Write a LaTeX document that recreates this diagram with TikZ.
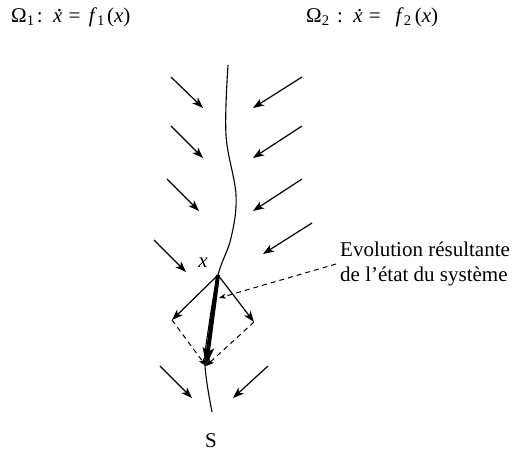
\documentclass[tikz,border=0pt]{standalone}
\usepackage{fontspec}
\setmainfont{Liberation Serif}
\usetikzlibrary{arrows.meta}
\newcommand{\xdotit}{\textit{\makebox[0pt][l]{\hspace{0.2em}\smash{\raisebox{0.52em}{.}}}x}}
\begin{document}
\begin{tikzpicture}[x=1pt,y=-1pt,
  fld/.style={line width=1.2pt,-{Stealth[length=11pt,width=8pt,inset=3pt]}},
  vec/.style={line width=1.2pt,-{Stealth[length=11pt,width=8pt,inset=3pt]}},
  dsh/.style={line width=1pt,dashed,dash pattern=on 5pt off 4pt},
  txt/.style={font=\fontsize{21}{25}\selectfont,inner sep=0pt}]
\useasboundingbox (0,0) rectangle (525,456);
% headings
\node[txt,anchor=west] (o1) at (11,17) {Ω\textsubscript{1}\hspace{0.1em}:\hspace{0.5em}\xdotit\hspace{0.3em}=\hspace{0.4em}\textit{f}\textsubscript{1}\hspace{0.1em}(\textit{x})};
\node[txt,anchor=west] (o2) at (306,17) {Ω\textsubscript{2}\hspace{0.35em}:\hspace{0.5em}\xdotit\hspace{0.3em}=\hspace{0.7em}\textit{f}\textsubscript{2}\hspace{0.15em}(\textit{x})};
% sliding curve
\draw[line width=1.1pt] plot[smooth,tension=0.6] coordinates {(228,65) (226,135) (236,195) (231,238) (218,275) (209,325) (205,365) (212,412)};
% field arrows
\foreach \i/\a/\b/\c/\d in {l1/171/77/203/108, l2/171/126/203/158, l3/167/179/199/211, l4/154/240/186/272, l5/160/366/192/398,
  r1/302/77/253/108, r2/302/126/253/158, r3/302/179/253/211, r4/312/223/263/254, r5/268/366/233/398}{
  \coordinate (\i s) at (\a,\b);
  \coordinate (\i e) at (\c,\d);
  \draw[fld] (\i s) -- (\i e);
}
% state point and vectors
\coordinate (X) at (218,275);
\coordinate (A) at (172,320);
\coordinate (B) at (254,322);
\coordinate (R) at (206,366);
\node[txt,font=\fontsize{21}{25}\selectfont\itshape] (xl) at (203,263) {x};
\draw[vec] (X) -- (A);
\draw[vec] (X) -- (B);
\draw[dsh,-{Stealth[length=8pt,width=6pt,inset=2pt]}] (A) -- (R);
\draw[dsh,-{Stealth[length=8pt,width=6pt,inset=2pt]}] (B) -- (R);
\draw[line width=4pt,-{Stealth[length=18pt,width=11pt,inset=4pt]}] (X) -- (R);
% label
\node[txt,anchor=north west,align=left] (lab) at (340,242) {Evolution résultante\\de l’état du système};
\coordinate (P) at (219,298);
\draw[dsh,-{Stealth[length=7pt,width=5pt,inset=2pt]}] (336,264) -- (P);
\node[txt] (S) at (211,441) {S};
\end{tikzpicture}
\end{document}
